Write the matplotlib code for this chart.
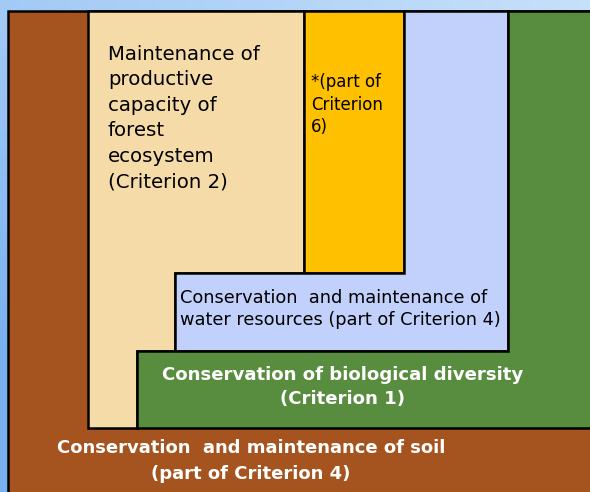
import numpy as np
import matplotlib.pyplot as plt
from matplotlib.patches import Polygon

# canvas in pixels of the original diagram (y grows downward)
W, H = 590, 492

# regions: name -> (outline vertices, fill colour)
soil_shape = [(8, 11), (600, 11), (600, 500), (8, 500)]
prod_shape = [(88, 11), (304, 11), (304, 273), (175, 273), (175, 351),
              (137, 351), (137, 428), (88, 428)]
part6_shape = [(304, 11), (404, 11), (404, 273), (304, 273)]
water_shape = [(404, 11), (508, 11), (508, 351), (175, 351), (175, 273), (404, 273)]
bio_shape = [(508, 11), (600, 11), (600, 428), (137, 428), (137, 351), (508, 351)]

shapes = [soil_shape, prod_shape, part6_shape, water_shape, bio_shape]
colors = ['#A5541F', '#F5DBA7', '#FFC000', '#C1D1FB', '#588C3F']

labels = [
    "Maintenance of\nproductive\ncapacity of\nforest\necosystem\n(Criterion 2)",
    "*(part of\nCriterion\n6)",
    "Conservation  and maintenance of\nwater resources (part of Criterion 4)",
    "Conservation of biological diversity\n(Criterion 1)",
    "Conservation  and maintenance of soil\n(part of Criterion 4)",
]

fig = plt.figure(figsize=(5.9, 4.92), dpi=100)
ax = fig.add_axes([0, 0, 1, 1])
ax.set_xlim(0, W)
ax.set_ylim(H, 0)
ax.axis('off')

# light blue slide background gradient
gx, gy = np.meshgrid(np.linspace(0, 1, 60), np.linspace(0, 1, 60))
t = np.clip(0.75 * gy + 0.45 * (1 - gx), 0, 1)
light = np.array([198, 224, 250]) / 255
dark = np.array([120, 176, 240]) / 255
bg = light[None, None, :] * (1 - t[..., None]) + dark[None, None, :] * t[..., None]
ax.imshow(bg, extent=(0, W, H, 0), aspect='auto', zorder=0)

for pts, c in zip(shapes, colors):
    ax.add_patch(Polygon(pts, closed=True, facecolor=c, edgecolor='black',
                         linewidth=1.8, joinstyle='miter', zorder=1))

ax.text(108, 45, labels[0], fontsize=14.2, va='top', ha='left',
        linespacing=1.43, zorder=3)
ax.text(311, 73, labels[1], fontsize=12, va='top', ha='left',
        linespacing=1.33, zorder=3)
ax.text(180, 289, labels[2], fontsize=12.8, va='top', ha='left',
        linespacing=1.32, zorder=3)
ax.text(343, 387, labels[3], fontsize=13.1, fontweight='bold', color='white',
        va='center', ha='center', linespacing=1.5, zorder=3)
ax.text(251, 461, labels[4], fontsize=13, fontweight='bold', color='white',
        va='center', ha='center', linespacing=1.58, zorder=3)

fig.savefig('out.png', dpi=100)
